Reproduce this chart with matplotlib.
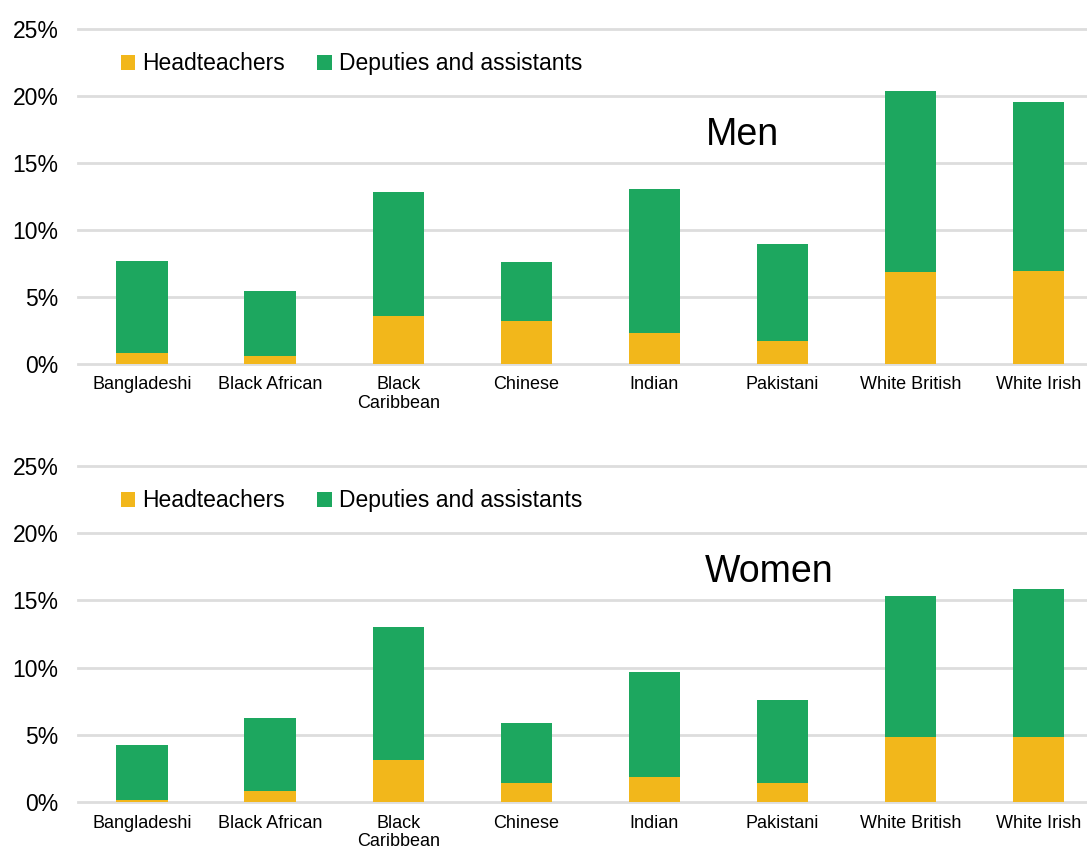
import matplotlib
matplotlib.use("Agg")
import matplotlib.pyplot as plt
import numpy as np

plt.rcParams['font.family'] = ['Liberation Sans', 'DejaVu Sans']

groups = ["Bangladeshi", "Black African", "Black\nCaribbean", "Chinese",
          "Indian", "Pakistani", "White British", "White Irish"]

# share of teachers in leadership roles (%)
men_head = [0.8, 0.6, 3.6, 3.2, 2.3, 1.7, 6.9, 6.95]
men_total = [7.7, 5.45, 12.8, 7.6, 13.05, 8.95, 20.35, 19.55]
women_head = [0.15, 0.8, 3.15, 1.4, 1.9, 1.4, 4.85, 4.85]
women_total = [4.25, 6.25, 13.05, 5.9, 9.7, 7.6, 15.35, 15.85]

yticks = [0, 5, 10, 15, 20, 25]

yellow = "#F2B71B"
green = "#1DA75F"
grid_col = "#DDDDDD"

fig = plt.figure(figsize=(10.87, 8.48), dpi=100)

def panel(rect, head, total, label, label_xy):
    ax = fig.add_axes(rect)
    x = np.arange(len(groups))
    head = np.array(head)
    dep = np.array(total) - head
    ax.bar(x, head, width=0.4, color=yellow, label="Headteachers", zorder=3)
    ax.bar(x, dep, bottom=head, width=0.4, color=green,
           label="Deputies and assistants", zorder=3)
    for t in yticks:
        ax.axhline(t, color=grid_col, lw=2, zorder=1, clip_on=False)
    ax.set_xlim(-0.5, 7.38)
    ax.set_ylim(0, 25)
    ax.set_yticks(yticks)
    ax.set_yticklabels([f"{t}%" for t in yticks], fontsize=16.5)
    ax.set_xticks(x)
    ax.set_xticklabels(groups, fontsize=13, linespacing=1.15)
    ax.tick_params(length=0)
    ax.tick_params(axis='y', pad=14)
    ax.tick_params(axis='x', pad=9)
    for s in ax.spines.values():
        s.set_visible(False)
    ax.legend(loc="upper left", bbox_to_anchor=(0.033, 0.958), ncol=2,
              frameon=False, fontsize=16.5, handlelength=0.65, handleheight=0.65,
              handletextpad=0.3, columnspacing=1.4, borderaxespad=0)
    ax.text(label_xy[0], label_xy[1], label, fontsize=27, ha="center",
            va="center")
    return ax

panel([0.0718, 0.5708, 0.9282, 0.395], men_head, men_total, "Men", (4.69, 17.1))
panel([0.0718, 0.0542, 0.9282, 0.3962], women_head, women_total, "Women", (4.9, 17.1))

fig.savefig("out.png", dpi=100)
